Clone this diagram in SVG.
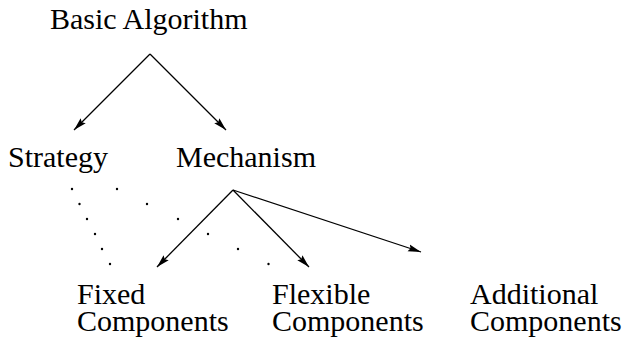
<svg xmlns="http://www.w3.org/2000/svg" width="639" height="337" viewBox="0 0 639 337">
  <defs>
    <marker id="arrow" markerUnits="userSpaceOnUse" markerWidth="14" markerHeight="10" refX="13" refY="0" viewBox="0 -5 14 10" orient="auto">
      <path d="M0,-3.6 L13,0 L0,3.6 L2,0 z" fill="#000"/>
    </marker>
  </defs>

  <rect width="639" height="337" fill="#fff"/>

  <!-- connectors: solid arrows, then dotted relations from Strategy -->
  <g id="connectors">
    <g stroke="#000" stroke-width="1.3" fill="none" marker-end="url(#arrow)">
      <line x1="150" y1="54" x2="74" y2="130"/>
      <line x1="150" y1="54" x2="226" y2="130"/>
      <line x1="233" y1="190" x2="157" y2="267"/>
      <line x1="233" y1="190" x2="309" y2="267"/>
      <line x1="233" y1="190" x2="421" y2="252"/>
    </g>
    <g id="dots-strategy-fixed" fill="#000">
      <circle cx="72" cy="189" r="1.2"/>
      <circle cx="79.5" cy="204" r="1.2"/>
      <circle cx="87" cy="219" r="1.2"/>
      <circle cx="95" cy="234" r="1.2"/>
      <circle cx="102" cy="249" r="1.2"/>
      <circle cx="110" cy="264" r="1.2"/>
    </g>
    <g id="dots-strategy-flexible" fill="#000">
      <circle cx="117" cy="189" r="1.2"/>
      <circle cx="147" cy="204" r="1.2"/>
      <circle cx="178" cy="219" r="1.2"/>
      <circle cx="208" cy="234" r="1.2"/>
      <circle cx="238" cy="249" r="1.2"/>
      <circle cx="268.5" cy="264" r="1.2"/>
    </g>
  </g>

  <!-- nodes -->
  <g id="basic-algorithm">
    <text x="50" y="29" font-family="Liberation Serif" font-size="30">Basic Algorithm</text>
  </g>
  <g id="strategy">
    <text x="8" y="167" font-family="Liberation Serif" font-size="30">Strategy</text>
  </g>
  <g id="mechanism">
    <text x="176" y="167" font-family="Liberation Serif" font-size="30">Mechanism</text>
  </g>
  <g id="fixed-components">
    <text x="77" y="304" font-family="Liberation Serif" font-size="30">Fixed</text>
    <text x="77" y="331" font-family="Liberation Serif" font-size="30">Components</text>
  </g>
  <g id="flexible-components">
    <text x="272" y="304" font-family="Liberation Serif" font-size="30">Flexible</text>
    <text x="272" y="331" font-family="Liberation Serif" font-size="30">Components</text>
  </g>
  <g id="additional-components">
    <text x="470" y="304" font-family="Liberation Serif" font-size="30">Additional</text>
    <text x="470" y="331" font-family="Liberation Serif" font-size="30">Components</text>
  </g>
</svg>
